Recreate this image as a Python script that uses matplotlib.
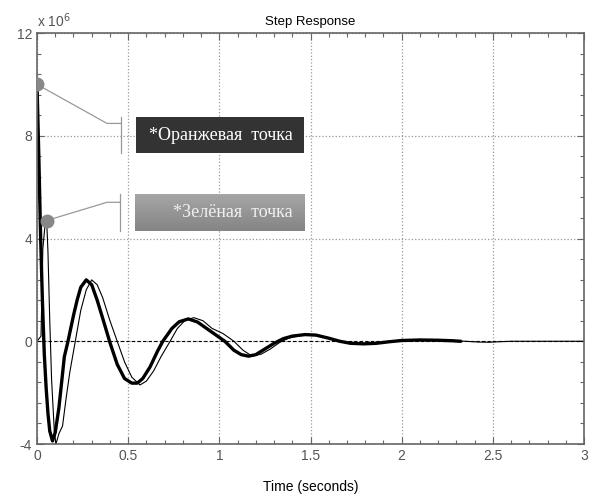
import matplotlib
matplotlib.use("Agg")
import matplotlib.pyplot as plt
import numpy as np
from matplotlib.patches import Rectangle
from matplotlib.ticker import MultipleLocator

# thick response (values in units of 1e6)
t_thick = [0.0, 0.01, 0.02, 0.03, 0.04, 0.05, 0.06, 0.07, 0.085, 0.1, 0.12, 0.15,
           0.17, 0.2, 0.22, 0.24, 0.27, 0.3, 0.33, 0.36, 0.4, 0.44, 0.48, 0.52,
           0.55, 0.58, 0.62, 0.66, 0.69, 0.74, 0.78, 0.83, 0.88, 0.93, 0.98, 1.03,
           1.08, 1.12, 1.16, 1.2, 1.25, 1.3, 1.35, 1.4, 1.47, 1.53, 1.6, 1.66,
           1.72, 1.79, 1.86, 1.93, 2.0, 2.1, 2.2, 2.28, 2.32]
y_thick = [10.0, 7.2, 4.0, 1.5, -0.5, -1.8, -2.8, -3.5, -3.88, -3.55, -2.6, -0.6,
           0.0, 1.0, 1.6, 2.1, 2.39, 2.2, 1.6, 0.9, -0.05, -0.9, -1.45, -1.63,
           -1.63, -1.45, -1.0, -0.4, 0.0, 0.5, 0.76, 0.87, 0.75, 0.5, 0.25, 0.0,
           -0.35, -0.52, -0.58, -0.52, -0.3, -0.08, 0.1, 0.2, 0.26, 0.24, 0.12, 0.0,
           -0.08, -0.1, -0.08, -0.02, 0.03, 0.05, 0.04, 0.02, 0.0]

# thin response
t_thin = [0.0, 0.022, 0.032, 0.045, 0.053, 0.06, 0.07, 0.08, 0.095, 0.104, 0.12,
          0.14, 0.16, 0.18, 0.21, 0.24, 0.27, 0.3, 0.33, 0.36, 0.4, 0.44, 0.48,
          0.52, 0.565, 0.6, 0.64, 0.68, 0.73, 0.77, 0.81, 0.86, 0.91, 0.96, 1.02,
          1.08, 1.13, 1.18, 1.23, 1.28, 1.33, 1.38, 1.44, 1.5, 1.56, 1.62, 1.68,
          1.75, 1.82, 1.9, 1.97, 2.05, 2.15, 2.25, 2.35, 2.42, 2.48, 2.53, 2.6, 3.0]
y_thin = [0.0, 0.2, 3.6, 4.6, 4.7, 3.5, 0.8, -1.5, -3.5, -4.0, -3.6,
          -3.3, -2.2, -1.2, 0.0, 1.2, 2.0, 2.39, 2.2, 1.7, 0.8, 0.0, -0.8,
          -1.4, -1.7, -1.55, -1.15, -0.6, 0.0, 0.5, 0.8, 0.92, 0.8, 0.5, 0.3,
          0.0, -0.35, -0.58, -0.5, -0.3, -0.05, 0.12, 0.22, 0.25, 0.2, 0.08, -0.03,
          -0.1, -0.1, -0.05, 0.0, 0.04, 0.05, 0.03, 0.0, -0.03, -0.04, -0.02, 0.0, 0.0]

# data tips
tip_x = [0.0, 0.053]
tip_y = [10.0, 4.7]
tip_labels = ["*Оранжевая  точка", "*Зелёная  точка"]

xticks = [0, 0.5, 1, 1.5, 2, 2.5, 3]
xticklabels = ["0", "0.5", "1", "1.5", "2", "2.5", "3"]
yticks = [-4, 0, 4, 8, 12]

plt.rcParams['font.family'] = ['Liberation Sans', 'DejaVu Sans']
plt.rcParams['axes.unicode_minus'] = False

fig = plt.figure(figsize=(5.92, 4.97), dpi=100)
ax = fig.add_axes([0.0625, 0.1066, 0.924, 0.827])

grey = '#666666'
ax.set_xticks(xticks)
ax.set_xticklabels(xticklabels)
ax.set_yticks(yticks)
ax.xaxis.set_minor_locator(MultipleLocator(0.1))
ax.yaxis.set_minor_locator(MultipleLocator(0.8))
ax.tick_params(which='both', direction='in', top=True, right=True, colors=grey,
               labelsize=10, labelcolor='#555555')
ax.tick_params(which='major', length=5, width=0.8)
ax.tick_params(which='minor', length=3, width=0.8)
for s in ax.spines.values():
    s.set_color(grey)
    s.set_linewidth(1.2)
ax.grid(True, which='major', linestyle=':', color='#999999', linewidth=0.9)

ax.axhline(0, color='black', linestyle='--', linewidth=0.8, dashes=(3, 2))
ax.plot(t_thin, y_thin, color='black', linewidth=0.8)
ax.plot(t_thick, y_thick, color='black', linewidth=2.4)

# data tip markers and leader lines
ax.plot(tip_x, tip_y, 'o', color='#888888', markersize=9, zorder=5)
elbow_y = [8.48, 5.41]
bar_x = [0.461, 0.455]
bar_y = [(8.72, 7.32), (5.72, 4.28)]
for i in range(2):
    ax.plot([tip_x[i], 0.384, bar_x[i]], [tip_y[i], elbow_y[i], elbow_y[i]],
            color='#999999', linewidth=0.9, zorder=4)
    ax.plot([bar_x[i], bar_x[i]], bar_y[i], color='#999999', linewidth=0.9, zorder=4)

# label boxes
ax.add_patch(Rectangle((0.543, 7.32), 0.922, 1.40, facecolor='#333333',
                       edgecolor='none', zorder=6))
grad = np.linspace(0.65, 0.52, 64).reshape(-1, 1)
ax.imshow(grad, extent=(0.537, 1.465, 4.28, 5.72), cmap='gray', vmin=0, vmax=1,
          aspect='auto', origin='upper', zorder=6)
ax.set_xlim(0, 3)
ax.set_ylim(-4, 12)
ax.text(1.40, 8.02, tip_labels[0], color='white', fontsize=13, ha='right', va='center',
        family=['Liberation Serif', 'DejaVu Serif'], zorder=7)
ax.text(1.40, 5.0, tip_labels[1], color='#f0f0f0', fontsize=13, ha='right', va='center',
        family=['Liberation Serif', 'DejaVu Serif'], zorder=7)

ax.set_title('Step Response', fontsize=9.5, pad=6)
ax.set_xlabel('Time (seconds)', fontsize=10, labelpad=12)
ax.text(0.0, 1.015, r'x 10$^{6}$', transform=ax.transAxes, color='#555555', fontsize=10)

fig.savefig('out.png', dpi=100)
